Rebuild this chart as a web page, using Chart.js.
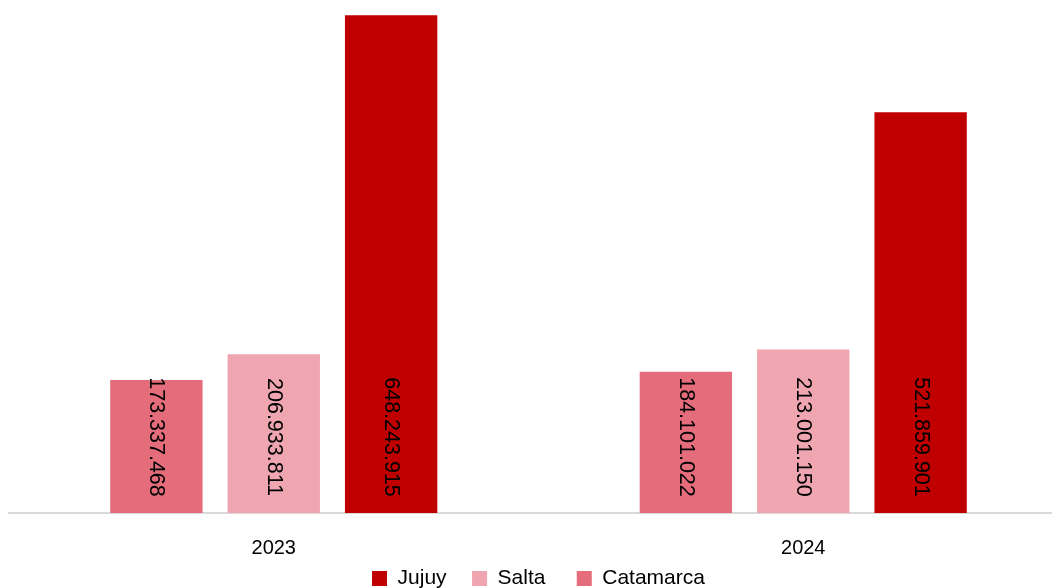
<!DOCTYPE html>
<html>
<head>
<meta charset="utf-8">
<script src="https://cdn.jsdelivr.net/npm/chart.js@4.4.0/dist/chart.umd.min.js"></script>
<style>
  html, body { margin: 0; padding: 0; background: #fff; overflow: hidden; }
  #wrap { width: 1070px; height: 588px; position: relative; }
</style>
</head>
<body>
<div id="wrap"><canvas id="chart"></canvas></div>
<script>
// chart data
const years = ['2023', '2024'];
const catamarca = [173337468, 184101022];
const salta = [206933811, 213001150];
const jujuy = [648243915, 521859901];

const FONT = '"Liberation Sans", Arial, sans-serif';

// format numbers with dots as thousands separator
function fmt(v) {
    return String(v).replace(/\B(?=(\d{3})+(?!\d))/g, '.');
}

// draw the rotated value labels near the base of each bar
const barLabels = {
    id: 'barLabels',
    afterDatasetsDraw(chart) {
        const ctx = chart.ctx;
        const base = chart.scales.y.getPixelForValue(0);
        ctx.save();
        ctx.font = '21.5px ' + FONT;
        ctx.fillStyle = '#000';
        ctx.textAlign = 'center';
        ctx.textBaseline = 'middle';
        chart.data.datasets.forEach((ds, i) => {
            chart.getDatasetMeta(i).data.forEach((bar, j) => {
                ctx.save();
                ctx.translate(bar.x, base - 76);
                ctx.rotate(Math.PI / 2);
                ctx.fillText(fmt(ds.data[j]), 0, 0);
                ctx.restore();
            });
        });
        ctx.restore();
    }
};

// pull the legend up a little, closer to the category labels
const legendNudge = {
    id: 'legendNudge',
    afterLayout(chart) {
        chart.legend.top -= 23;
        chart.legend.bottom -= 23;
    }
};

new Chart(document.getElementById('chart'), {
    type: 'bar',
    data: {
        labels: years,
        datasets: [
            { label: 'Catamarca', data: catamarca, backgroundColor: '#E46C7B' },
            { label: 'Salta', data: salta, backgroundColor: '#EFA6B0' },
            { label: 'Jujuy', data: jujuy, backgroundColor: '#C00000' }
        ]
    },
    options: {
        responsive: true,
        maintainAspectRatio: false,
        animation: false,
        datasets: {
            bar: { categoryPercentage: 0.665, barPercentage: 0.787 }
        },
        layout: { padding: { top: 14, left: 9, right: 2, bottom: -34 } },
        plugins: {
            legend: {
                position: 'bottom',
                reverse: true,
                labels: {
                    boxWidth: 15,
                    boxHeight: 15,
                    padding: 8,
                    color: '#000',
                    font: { family: FONT, size: 21 },
                    // trailing spaces widen the gap between legend entries
                    generateLabels(chart) {
                        const items = Chart.defaults.plugins.legend.labels.generateLabels(chart);
                        items.forEach(it => {
                            if (it.text === 'Jujuy') it.text += '\u00A0\u00A0\u00A0';
                            if (it.text === 'Salta') it.text += '\u00A0\u00A0\u00A0\u00A0';
                        });
                        return items;
                    }
                }
            },
            tooltip: { enabled: false }
        },
        scales: {
            x: {
                grid: { display: false, drawTicks: false },
                border: { color: '#D9D9D9', width: 2 },
                ticks: { color: '#000', padding: 23, font: { family: FONT, size: 20 } }
            },
            y: {
                display: false,
                min: 0,
                max: 650000000
            }
        }
    },
    plugins: [barLabels, legendNudge]
});
</script>
</body>
</html>
